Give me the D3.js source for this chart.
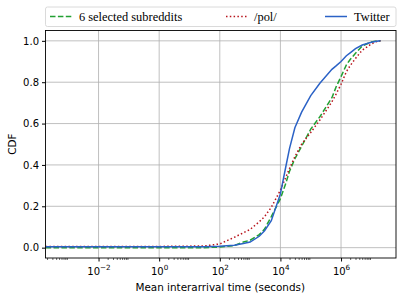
<!DOCTYPE html>
<html>
<head>
<meta charset="UTF-8">
<style>
    body { margin: 0; background: #fff; }
    .tick text { font-family: "DejaVu Sans", sans-serif; font-size: 10px; fill: #000; }
    .legend text { font-family: "Liberation Serif", serif; font-size: 12.4px; }
</style>
</head>
<body>
<svg id="chart" width="407" height="299"></svg>
<script src="https://d3js.org/d3.v7.min.js"></script>
<script>
    // seconds
    const times = [1.8e-4, 1e-2, 1, 30, 100, 300, 600, 1e3, 2e3, 3e3, 5e3, 1e4, 1.5e4, 2e4, 3e4, 5e4,
        1e5, 2e5, 5e5, 7e5, 1e6, 1.5e6, 2e6, 3e6, 5e6, 1e7, 1.5e7, 2e7];
    const subredditCdf = [0, 0, 0, 0, 0.003, 0.01, 0.027, 0.036, 0.063, 0.09, 0.15, 0.237, 0.31, 0.37,
        0.43, 0.49, 0.573, 0.633, 0.725, 0.78, 0.827, 0.884, 0.91, 0.94, 0.975, 0.995, 0.999, 1.0];
    const polCdf = [0.006, 0.006, 0.006, 0.008, 0.018, 0.05, 0.072, 0.088, 0.125, 0.15, 0.195, 0.278,
        0.34, 0.383, 0.44, 0.5, 0.557, 0.617, 0.705, 0.745, 0.79, 0.851, 0.88, 0.915, 0.955, 0.985, 0.997, 1.0];
    const twitterCdf = [0.005, 0.005, 0.005, 0.005, 0.007, 0.012, 0.02, 0.027, 0.055, 0.082, 0.13, 0.26,
        0.39, 0.48, 0.58, 0.655, 0.735, 0.795, 0.862, 0.88, 0.9, 0.928, 0.942, 0.962, 0.98, 0.993, 0.998, 1.0];

    const seriesNames = ["6 selected subreddits", "/pol/", "Twitter"];
    const xTickExps = [-2, 0, 2, 4, 6];
    const yTicks = [0, 0.2, 0.4, 0.6, 0.8, 1.0];

    const series = [
        { name: seriesNames[0], values: subredditCdf, color: "#22a033", dash: "5.5,2.4" },
        { name: seriesNames[1], values: polCdf, color: "#b8141c", dash: "1.5,2.3" },
        { name: seriesNames[2], values: twitterCdf, color: "#2b62c6", dash: null }
    ];

    const svg = d3.select("#chart");
    const pLeft = 45.5, pRight = 396, pTop = 30.5, pBottom = 258;

    const x = d3.scaleLog().domain([1.78e-4, 6.5e7]).range([pLeft, pRight]);
    const y = d3.scaleLinear().domain([-0.05, 1.05]).range([pBottom, pTop]);

    // grid
    const grid = svg.append("g");
    xTickExps.forEach(e => {
        grid.append("line")
            .attr("x1", x(Math.pow(10, e))).attr("x2", x(Math.pow(10, e)))
            .attr("y1", pTop).attr("y2", pBottom)
            .attr("stroke", "#b0b0b0").attr("stroke-width", 0.8);
    });
    yTicks.forEach(v => {
        grid.append("line")
            .attr("x1", pLeft).attr("x2", pRight)
            .attr("y1", y(v)).attr("y2", y(v))
            .attr("stroke", "#b0b0b0").attr("stroke-width", 0.8);
    });

    // curves
    const line = d3.line()
        .x((d, i) => x(times[i]))
        .y(d => y(d));

    svg.append("defs").append("clipPath").attr("id", "clip")
        .append("rect").attr("x", pLeft).attr("y", pTop)
        .attr("width", pRight - pLeft).attr("height", pBottom - pTop);

    const curves = svg.append("g").attr("clip-path", "url(#clip)");
    series.forEach(s => {
        curves.append("path")
            .datum(s.values)
            .attr("d", line)
            .attr("fill", "none")
            .attr("stroke", s.color)
            .attr("stroke-width", 1.5)
            .attr("stroke-dasharray", s.dash);
    });

    // axes
    const minorTicks = [];
    xTickExps.concat([-4]).forEach(e => {
        for (let k = 2; k <= 9; k++) minorTicks.push(k * Math.pow(10, e));
    });
    const xMinor = minorTicks.filter(v => v >= x.domain()[0] && v <= x.domain()[1]);

    svg.append("g")
        .attr("transform", `translate(0,${pBottom})`)
        .call(d3.axisBottom(x).tickValues(xMinor).tickSize(2).tickFormat(""))
        .call(g => g.select(".domain").remove())
        .selectAll("line").attr("stroke-width", 0.6);

    const xAxis = svg.append("g")
        .attr("transform", `translate(0,${pBottom})`)
        .call(d3.axisBottom(x)
            .tickValues(xTickExps.map(e => Math.pow(10, e)))
            .tickSize(3.5).tickPadding(2.5)
            .tickFormat(""));
    xAxis.select(".domain").remove();
    xAxis.selectAll(".tick").each(function (d) {
        const e = Math.round(Math.log10(d));
        const t = d3.select(this).append("text")
            .attr("y", 16.5).attr("text-anchor", "middle").attr("fill", "#000");
        t.append("tspan").text("10");
        t.append("tspan").attr("dy", -4.2).attr("font-size", "7.2px")
            .text(String(e).replace("-", "\u2212"));
    });

    const yAxis = svg.append("g")
        .attr("transform", `translate(${pLeft},0)`)
        .call(d3.axisLeft(y).tickValues(yTicks).tickSize(3.5).tickPadding(3)
            .tickFormat(d3.format(".1f")));
    yAxis.select(".domain").remove();

    svg.append("rect")
        .attr("x", pLeft).attr("y", pTop)
        .attr("width", pRight - pLeft).attr("height", pBottom - pTop)
        .attr("fill", "none").attr("stroke", "#000").attr("stroke-width", 0.9);

    svg.append("text")
        .attr("x", (pLeft + pRight) / 2 - 0.5).attr("y", 290.5)
        .attr("text-anchor", "middle")
        .attr("font-family", "DejaVu Sans, sans-serif").attr("font-size", "10.4px")
        .text("Mean interarrival time (seconds)");

    svg.append("text")
        .attr("transform", `translate(15.5,${(pTop + pBottom) / 2}) rotate(-90)`)
        .attr("text-anchor", "middle")
        .attr("font-family", "DejaVu Sans, sans-serif").attr("font-size", "10.4px")
        .text("CDF");

    // legend
    const legend = svg.append("g").attr("class", "legend");
    legend.append("rect")
        .attr("x", pLeft).attr("y", 7)
        .attr("width", pRight - pLeft).attr("height", 19.5)
        .attr("rx", 2)
        .attr("fill", "#fff").attr("stroke", "#d0d0d0").attr("stroke-width", 0.8);

    const legendX = [50, 226, 325];
    series.forEach((s, i) => {
        const g = legend.append("g").attr("transform", `translate(${legendX[i]},16.5)`);
        g.append("line")
            .attr("x1", 0).attr("x2", 22)
            .attr("stroke", s.color).attr("stroke-width", 1.5)
            .attr("stroke-dasharray", s.dash);
        g.append("text").attr("x", i === 1 ? 28 : 29).attr("y", 4.2).text(s.name);
    });
</script>
</body>
</html>
